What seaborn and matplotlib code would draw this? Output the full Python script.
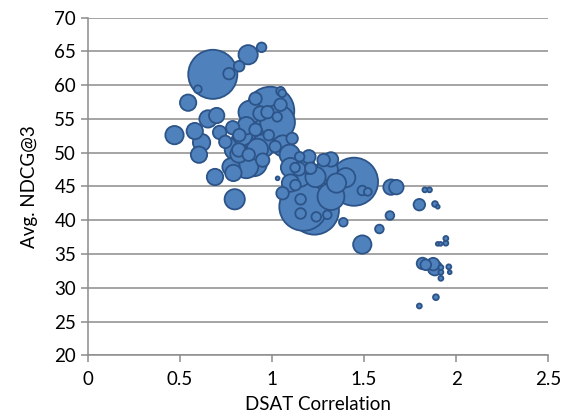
import numpy as np
import pandas as pd
import matplotlib
matplotlib.use('Agg')
import matplotlib.pyplot as plt
import seaborn as sns

# bubble data: DSAT correlation, avg NDCG@3, bubble weight
dsat = [0.678, 0.870, 0.943, 0.821, 0.766, 0.597, 0.544, 0.470, 0.580, 0.617,
        0.603, 0.652, 0.699, 0.690, 0.797, 0.715, 0.746, 0.786, 0.822, 0.819,
        0.777, 0.790, 0.873, 0.910, 0.910, 0.937, 0.880, 0.850, 0.900, 0.949,
        0.820, 0.860, 0.950, 0.800, 0.860, 0.920, 0.840,
        0.990, 1.030, 1.046, 1.055, 1.046, 0.975, 1.028, 0.982, 1.017, 1.109,
        1.060, 1.096, 1.150, 1.200, 1.145, 1.191, 1.210, 1.125, 1.280, 1.320,
        1.300, 1.236, 1.350, 1.400, 1.445, 1.490, 1.520, 1.127, 1.057, 1.155,
        1.155, 1.170, 1.230, 1.240, 1.300, 1.387, 1.030, 1.100, 1.320,
        1.150, 1.280, 1.100,
        1.490, 1.583, 1.640, 1.646, 1.675, 1.830, 1.855, 1.800, 1.885, 1.900,
        1.900, 1.915, 1.944, 1.944, 1.817, 1.835, 1.875, 1.885, 1.917, 1.917,
        1.917, 1.960, 1.965, 1.890, 1.800]
ndcg = [61.6, 64.5, 65.6, 62.8, 61.7, 59.4, 57.4, 52.6, 53.2, 51.5,
        49.7, 55.0, 55.5, 46.4, 43.1, 53.0, 51.6, 53.7, 52.6, 50.4,
        47.9, 47.0, 49.7, 53.4, 58.0, 55.8, 56.0, 51.5, 48.5, 48.9,
        49.8, 54.0, 51.0, 50.5, 48.0, 50.5, 52.5,
        56.2, 54.5, 59.1, 58.8, 57.1, 56.0, 55.3, 52.6, 50.9, 52.1,
        51.0, 49.7, 49.4, 49.4, 47.6, 48.0, 47.7, 47.8, 48.9, 49.0,
        47.5, 46.4, 45.5, 46.3, 45.7, 44.4, 44.2, 45.2, 44.0, 43.1,
        41.0, 42.0, 41.5, 40.5, 40.8, 39.7, 46.2, 45.5, 43.5,
        46.5, 47.0, 47.8,
        36.4, 38.7, 40.7, 44.9, 44.9, 44.5, 44.5, 42.3, 42.4, 42.0,
        36.5, 36.5, 37.3, 36.6, 33.6, 33.4, 33.5, 32.9, 33.0, 32.3,
        31.4, 33.1, 32.3, 28.6, 27.3]
weight = [100, 15.4, 3.8, 4.7, 5.5, 2.5, 11.1, 13.9, 11.1, 12.5,
          11.1, 12.5, 9.8, 11.1, 17.0, 7.5, 6.5, 7.5, 6.5, 7.5,
          12.5, 11.1, 6.5, 6.5, 6.5, 8.7, 22.0, 30.0, 30.0, 7.5,
          12.5, 12.5, 22.0, 18.6, 24.0, 18.6, 15.4,
          96, 50, 3.1, 2.5, 6.5, 6.5, 3.8, 4.7, 5.5, 5.5,
          18.6, 17.0, 3.8, 7.5, 7.5, 9.8, 5.5, 3.8, 6.5, 8.7,
          18.6, 17.0, 15.4, 15.4, 96, 3.8, 2.5, 4.7, 6.5, 4.7,
          4.7, 96, 104, 3.8, 3.1, 3.1, 0.6, 12.5, 30.0,
          18.6, 18.6, 15.4,
          13.9, 3.1, 3.1, 9.8, 8.7, 1.0, 1.0, 5.5, 1.4, 0.6,
          0.6, 0.6, 1.0, 1.0, 5.5, 4.7, 6.5, 8.7, 1.0, 1.0,
          1.0, 1.0, 0.6, 1.4, 1.0]

df = pd.DataFrame({'dsat': dsat, 'ndcg': ndcg, 'weight': weight})
# big bubbles first so the small ones sit on top
df = df.sort_values('weight', ascending=False)

sns.set_theme(style='white')
plt.rcParams['font.family'] = ['Lato', 'DejaVu Sans']

fig, ax = plt.subplots(figsize=(5.64, 4.19), dpi=100)
fig.subplots_adjust(left=0.156, right=0.972, bottom=0.152, top=0.958)

sns.scatterplot(data=df, x='dsat', y='ndcg', size='weight', sizes=(0, 1250),
                size_norm=(0, 100), color='#4F81BD', edgecolor='#2C5488',
                linewidth=1.3, alpha=1, legend=False, ax=ax, zorder=3)

ax.set_xlim(0, 2.5)
ax.set_ylim(20, 70)
ax.set_xticks(np.arange(0, 2.51, 0.5))
ax.set_xticklabels(['0', '0.5', '1', '1.5', '2', '2.5'])
ax.set_yticks(np.arange(20, 71, 5))
ax.grid(axis='y', color='#8C8C8C', linewidth=1.1, zorder=0)
ax.set_axisbelow(True)
for side in ['top', 'right']:
    ax.spines[side].set_visible(False)
for side in ['left', 'bottom']:
    ax.spines[side].set_color('#8C8C8C')
    ax.spines[side].set_linewidth(1.1)
ax.tick_params(axis='both', direction='out', length=5, width=1.1, color='#8C8C8C',
               labelsize=13.5, labelcolor='black', left=True, bottom=True)
ax.tick_params(axis='x', pad=6)
ax.set_xlabel('DSAT Correlation', fontsize=13.5, color='black', labelpad=6)
ax.set_ylabel('Avg. NDCG@3', fontsize=13.5, color='black', labelpad=12)

plt.savefig('out.png', dpi=100)
